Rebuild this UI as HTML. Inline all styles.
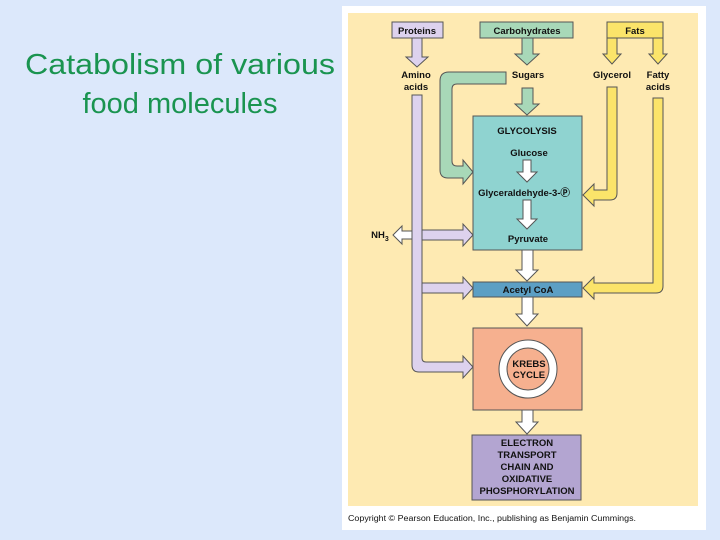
<!DOCTYPE html>
<html><head><meta charset="utf-8"><style>
html,body{margin:0;padding:0;background:#dce8fb;width:720px;height:540px;overflow:hidden}
svg{display:block}
text{font-family:"Liberation Sans",Arial,sans-serif}
</style></head><body>
<svg width="720" height="540" viewBox="0 0 720 540">
<rect width="720" height="540" fill="#dce8fb"/>
<text x="180" y="74" font-size="29" fill="#1a9450" text-anchor="middle" textLength="310" lengthAdjust="spacingAndGlyphs">Catabolism of various</text>
<text x="180" y="113" font-size="29" fill="#1a9450" text-anchor="middle">food molecules</text>
<rect x="342" y="6" width="364" height="524" fill="#fff"/>
<rect x="348" y="13" width="350" height="493" fill="#feeab2"/>
<g stroke="#555" stroke-width="1" font-weight="bold" font-size="9.5" text-anchor="middle">
<rect x="392" y="22" width="51" height="16" fill="#ddd2ee"/>
<rect x="480" y="22" width="93" height="16" fill="#a8d8b8"/>
<rect x="607" y="22" width="56" height="16" fill="#fbe46a"/>
<path d="M412,38 L412,57 L406,57 L417,67 L428,57 L422,57 L422,38 Z" fill="#ddd2ee"/>
<path d="M522,38 L522,54 L515,54 L527,65 L539,54 L533,54 L533,38 Z" fill="#a8d8b8"/>
<path d="M607,38 L607,54 L603,54 L612,64 L621,54 L617,54 L617,38 Z" fill="#fbe46a"/>
<path d="M653,38 L653,54 L649,54 L658,64 L667,54 L663,54 L663,38 Z" fill="#fbe46a"/>
<rect x="473" y="116" width="109" height="134" fill="#8fd3d0"/>
<path d="M522,88 L522,104 L515,104 L527,115 L539,104 L533,104 L533,88 Z" fill="#a8d8b8"/>
<path d="M506,72 L449,72 Q440,72 440,81 L440,170 Q440,178 448,178 L463,178 L463,184 L473,172 L463,160 L463,166 L457,166 Q452,166 452,161 L452,89 Q452,84 457,84 L506,84 Z" fill="#a8d8b8"/>
<path d="M607,87 L607,190 L594,190 L594,184 L583,195 L594,206 L594,200 L610,200 Q617,200 617,193 L617,87 Z" fill="#fbe46a"/>
<path d="M653,98 L653,283 L594,283 L594,277 L583,288 L594,299 L594,293 L656,293 Q663,293 663,286 L663,98 Z" fill="#fbe46a"/>
<path d="M412,95 L412,365 Q412,372 419,372 L463,372 L463,378 L473,367 L463,356 L463,362 L426,362 Q422,362 422,358 L422,95 Z" fill="#ddd2ee"/>
<path d="M422,283 L463,283 L463,277 L473,288 L463,299 L463,293 L422,293 Z" fill="#ddd2ee"/>
<path d="M422,230 L463,230 L463,224 L473,235 L463,246 L463,240 L422,240 Z" fill="#ddd2ee"/>
<path d="M412,231 L402,231 L402,226 L393,235 L402,244 L402,239 L412,239 Z" fill="#fff"/>
<path d="M523,160 L523,172 L517,172 L527,182 L537,172 L531,172 L531,160 Z" fill="#fff"/>
<path d="M523,200 L523,219 L517,219 L527,229 L537,219 L531,219 L531,200 Z" fill="#fff"/>
<path d="M522,250 L522,270 L516,270 L527,281 L538,270 L533,270 L533,250 Z" fill="#fff"/>
<rect x="473" y="282" width="109" height="15" fill="#5c9fc4"/>
<path d="M522,297 L522,314 L516,314 L527,326 L538,314 L533,314 L533,297 Z" fill="#fff"/>
<rect x="473" y="328" width="109" height="82" fill="#f6b08f"/>
<circle cx="528" cy="369" r="29" fill="#fff"/>
<circle cx="528" cy="369" r="21" fill="#f6b08f"/>
<path d="M522,410 L522,422 L516,422 L527,434 L538,422 L533,422 L533,410 Z" fill="#fff"/>
<rect x="472" y="435" width="109" height="65" fill="#b3a5d1"/>
</g>
<g font-family="Liberation Sans,Arial,sans-serif" font-weight="bold" font-size="9.5" text-anchor="middle" fill="#111">
<text x="417" y="34">Proteins</text>
<text x="527" y="34">Carbohydrates</text>
<text x="635" y="34">Fats</text>
<text x="416" y="78">Amino</text>
<text x="416" y="90">acids</text>
<text x="528" y="78">Sugars</text>
<text x="612" y="78">Glycerol</text>
<text x="658" y="78">Fatty</text>
<text x="658" y="90">acids</text>
<text x="527" y="134">GLYCOLYSIS</text>
<text x="529" y="156">Glucose</text>
<text x="524" y="196">Glyceraldehyde-3-Ⓟ</text>
<text x="528" y="242">Pyruvate</text>
<text x="380" y="238">NH<tspan font-size="7" dy="3">3</tspan></text>
<text x="528" y="293">Acetyl CoA</text>
<text x="529" y="367">KREBS</text>
<text x="529" y="378">CYCLE</text>
<text x="527" y="446">ELECTRON</text>
<text x="527" y="458">TRANSPORT</text>
<text x="527" y="470">CHAIN AND</text>
<text x="527" y="482">OXIDATIVE</text>
<text x="527" y="494">PHOSPHORYLATION</text>
<text x="492" y="521" font-weight="normal" font-size="8" textLength="288" lengthAdjust="spacingAndGlyphs">Copyright © Pearson Education, Inc., publishing as Benjamin Cummings.</text>
</g>
</svg>
</body></html>
